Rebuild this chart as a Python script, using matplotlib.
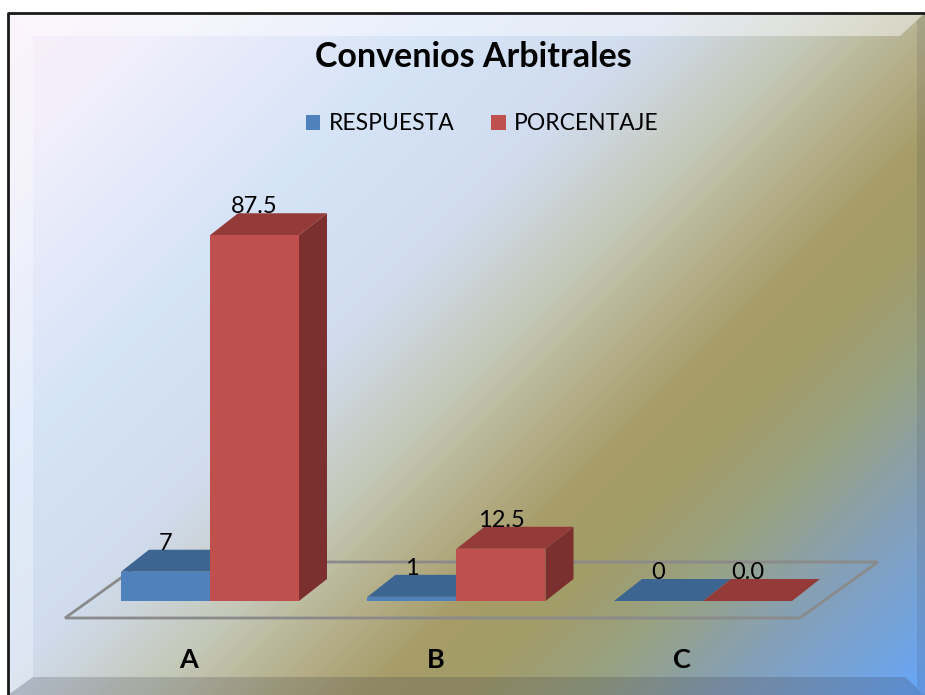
import numpy as np
import matplotlib
matplotlib.use("Agg")
import matplotlib.pyplot as plt
from matplotlib.patches import Polygon, Rectangle, Patch
from matplotlib.colors import LinearSegmentedColormap

# ---- data ----
categories = ["A", "B", "C"]
series_names = ["RESPUESTA", "PORCENTAJE"]
respuesta = [7, 1, 0]
porcentaje = [87.5, 12.5, 0.0]
value_labels_resp = ["7", "1", "0"]
value_labels_pct = ["87.5", "12.5", "0.0"]
title = "Convenios Arbitrales"

FONT = ["Lato", "DejaVu Sans"]
plt.rcParams['font.family'] = FONT

W_PX, H_PX = 925, 695
fig = plt.figure(figsize=(W_PX / 100, H_PX / 100), dpi=100)

# ---- background gradient ----
bg = fig.add_axes([0, 0, 1, 1], zorder=0)
yy, xx = np.mgrid[0:H_PX, 0:W_PX]
t = (xx + yy) / (W_PX + H_PX)
stops = [
    (0.00, "#fbf0fa"),
    (0.12, "#f0eefb"),
    (0.28, "#d6e4f8"),
    (0.42, "#d0dcee"),
    (0.52, "#c4c8b8"),
    (0.60, "#b4ae88"),
    (0.66, "#a69c68"),
    (0.72, "#a29c6a"),
    (0.79, "#98a282"),
    (0.87, "#86a0b6"),
    (1.00, "#66a6f8"),
]
cmap = LinearSegmentedColormap.from_list("bg", stops)
bg.imshow(t, cmap=cmap, vmin=0, vmax=1, aspect="auto",
          extent=(0, W_PX, H_PX, 0), interpolation="bilinear")
bg.set_xlim(0, W_PX)
bg.set_ylim(H_PX, 0)
bg.axis("off")
# outside white margins (top/left)
bg.add_patch(Rectangle((0, 0), W_PX, 13, color="white", zorder=2))
bg.add_patch(Rectangle((0, 0), 8, H_PX, color="white", zorder=2))
# bevel
bg.add_patch(Polygon([(8, 13), (W_PX, 13), (W_PX - 25, 36), (33, 36)],
                     closed=True, color="white", alpha=0.45, lw=0, zorder=3))
bg.add_patch(Polygon([(8, 13), (33, 36), (33, H_PX - 18), (8, H_PX)],
                     closed=True, color="white", alpha=0.3, lw=0, zorder=3))
bg.add_patch(Polygon([(8, H_PX), (33, H_PX - 18), (W_PX - 20, H_PX - 18), (W_PX, H_PX)],
                     closed=True, color="#303040", alpha=0.2, lw=0, zorder=3))
bg.add_patch(Polygon([(W_PX, 13), (W_PX - 8, 20), (W_PX - 8, H_PX - 8), (W_PX, H_PX)],
                     closed=True, color="#303040", alpha=0.12, lw=0, zorder=3))
bg.plot([8, 8, W_PX], [H_PX, 13, 13], color="#1a1a1a", lw=2, zorder=4,
        solid_capstyle="butt")

# ---- 3D bar axes: x = category index, y = value ----
PX_PER_CAT = 246.5
PX_PER_VAL = 4.18
X0_PX = 210.0   # pixel of category 0 centre
Y0_PX = 601.0   # pixel of value 0 (front baseline)
ax = fig.add_axes([0, 0, 1, 1], zorder=1)
ax.set_xlim((0 - X0_PX) / PX_PER_CAT, (W_PX - X0_PX) / PX_PER_CAT)
ax.set_ylim(-(H_PX - Y0_PX) / PX_PER_VAL, Y0_PX / PX_PER_VAL)
ax.axis("off")
ax.patch.set_alpha(0)

BW = 89 / PX_PER_CAT          # bar width
DX = 28 / PX_PER_CAT          # depth offset x
DY = 22 / PX_PER_VAL          # depth offset y

# floor
f_front = -17 / PX_PER_VAL
f_dx = 78 / PX_PER_CAT
f_dy = 56 / PX_PER_VAL
f_left = -0.588
f_right = 2.393
floor = Polygon([(f_left, f_front), (f_right, f_front),
                 (f_right + f_dx, f_front + f_dy), (f_left + f_dx, f_front + f_dy)],
                closed=True, fill=False, edgecolor="#8a8a8a", lw=2, zorder=1)
ax.add_patch(floor)

colors = [
    dict(front="#4f81bd", top="#3c6591", side="#34587f"),
    dict(front="#c0504d", top="#943b39", side="#7b2f2e"),
]
series = [respuesta, porcentaje]
labels = [value_labels_resp, value_labels_pct]

z = 2
for i, cat in enumerate(categories):
    for j in range(2):
        v = series[j][i]
        xl = i + (j - 1) * BW
        c = colors[j]
        side = Polygon([(xl + BW, 0), (xl + BW + DX, DY), (xl + BW + DX, v + DY), (xl + BW, v)],
                       closed=True, facecolor=c["side"], edgecolor="none", zorder=z)
        top = Polygon([(xl, v), (xl + BW, v), (xl + BW + DX, v + DY), (xl + DX, v + DY)],
                      closed=True, facecolor=c["top"], edgecolor="none", zorder=z + 1)
        front = Rectangle((xl, 0), BW, v, facecolor=c["front"], edgecolor="none", zorder=z + 2)
        ax.add_patch(side)
        ax.add_patch(top)
        if v > 0:
            ax.add_patch(front)
        z += 3
        ax.text(xl + BW / 2, v + DY + 1.6, labels[j][i], ha="center", va="center",
                fontsize=17, color="black", zorder=100)
    ax.text(i - 21 / PX_PER_CAT, -59 / PX_PER_VAL, cat, ha="center", va="center",
            fontsize=19.5, fontweight="bold", color="black", zorder=100)

# ---- title & legend ----
fig.text(473 / W_PX, 1 - 57 / H_PX, title, ha="center", va="center",
         fontsize=24.5, fontweight="bold", color="black", zorder=10)
handles = [Patch(facecolor=colors[k]["front"], edgecolor="none", label=series_names[k])
           for k in range(2)]
fig.legend(handles=handles, loc="center", bbox_to_anchor=(482 / W_PX, 1 - 124 / H_PX),
           ncol=2, frameon=False, fontsize=16.5, handlelength=0.65, handleheight=0.65,
           handletextpad=0.35, columnspacing=1.6)

fig.savefig("out.png", dpi=100)
